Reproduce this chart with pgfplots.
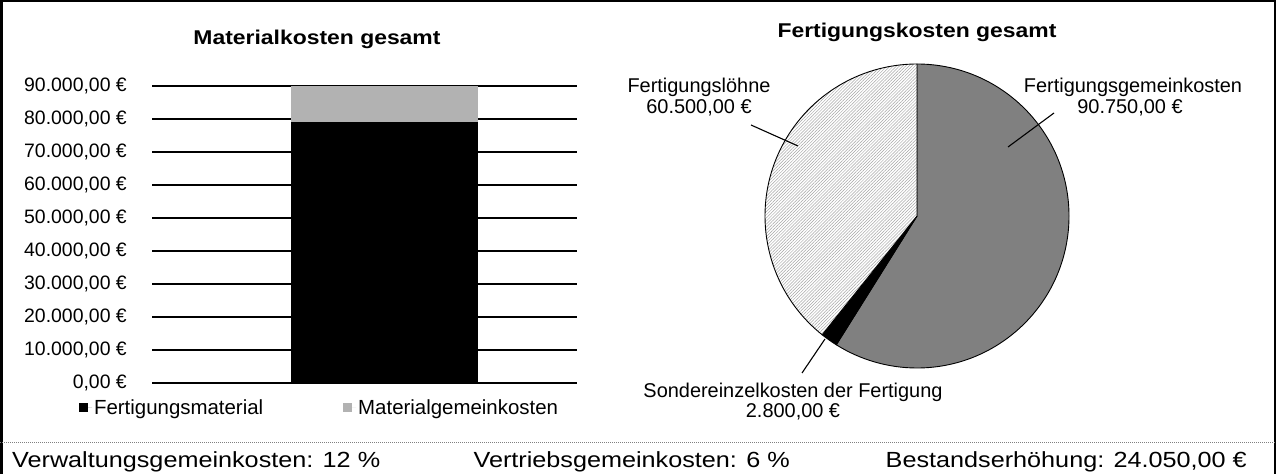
\documentclass[border=0pt]{standalone}
\usepackage{fontspec}
\setmainfont{Liberation Sans}
\newfontfamily\widefont[FakeStretch=1.15]{Liberation Sans}
\usepackage{pgfplots}
\pgfplotsset{compat=1.18}
\usepackage{pgfplotstable}
\usetikzlibrary{patterns.meta}

\pgfplotstableread{
name value
Fertigungsmaterial 79000
Materialgemeinkosten 11000
}\mattable

\pgfplotstableread{
name value
Fertigungsgemeinkosten 90750
Sondereinzelkosten 2800
Fertigungsloehne 60500
}\pietable

\pgfplotstablegetelem{0}{value}\of\mattable\edef\mA{\pgfplotsretval}%
\pgfplotstablegetelem{1}{value}\of\mattable\edef\mB{\pgfplotsretval}%
\pgfplotstablegetelem{0}{value}\of\pietable\edef\vA{\pgfplotsretval}%
\pgfplotstablegetelem{1}{value}\of\pietable\edef\vB{\pgfplotsretval}%
\pgfplotstablegetelem{2}{value}\of\pietable\edef\vC{\pgfplotsretval}%
\edef\tot{\fpeval{\vA+\vB+\vC}}%
\edef\aA{90}%
\edef\aB{\fpeval{90-360*\vA/\tot}}%
\edef\aC{\fpeval{90-360*(\vA+\vB)/\tot}}%
\edef\aD{-270}%

\begin{document}%
\begin{tikzpicture}

% outer frame
\draw[line width=2.5bp] (1.25bp,0bp) -- (1.25bp,472.75bp) -- (1274.75bp,472.75bp) -- (1274.75bp,0bp);
\draw[gray, line width=0.8bp, dash pattern=on 1bp off 1bp] (0bp,32bp) -- (1276bp,32bp);

% titles
\node[font=\widefont\fontsize{20}{24}\bfseries\selectfont] at (317bp,435bp) {Materialkosten gesamt};
\node[font=\widefont\fontsize{20}{24}\bfseries\selectfont] at (917bp,442bp) {Fertigungskosten gesamt};

% bar chart
\begin{axis}[
  at={(152bp,91bp)}, anchor=south west,
  width=425bp, height=297bp, scale only axis,
  xmin=-1, xmax=0.828, ymin=0, ymax=90000,
  ytick={0,10000,20000,30000,40000,50000,60000,70000,80000,90000},
  xtick=\empty,
  axis line style={draw=none},
  ymajorgrids, major grid style={black, line width=1.1bp},
  major tick length=0pt,
  scaled y ticks=false,
  yticklabel style={font=\fontsize{19.5}{22}\selectfont, anchor=east, inner sep=0pt, xshift=-25bp,
    /pgf/number format/fixed, /pgf/number format/fixed zerofill,
    /pgf/number format/precision=2, /pgf/number format/use comma,
    /pgf/number format/1000 sep={.}, /pgf/number format/assume math mode=true},
  yticklabel={\pgfmathprintnumber{\tick}~€},
  ybar stacked, bar width=187bp,
  clip=false,
  legend columns=2,
  legend style={at={(-0.172,-0.084)}, anchor=west, draw=none, fill=none,
    font=\fontsize{20.5}{24}\selectfont, inner sep=0pt,
    /tikz/every even column/.append style={column sep=78bp}},
  legend image code/.code={\path (0bp,0bp) -- (13bp,0bp);\fill[#1] (0bp,-4.5bp) rectangle (9bp,4.5bp);},
]
\addplot[fill=black, draw=none] coordinates {(0,\mA)};
\addlegendentry{Fertigungsmaterial}
\addplot[fill=black!30, draw=none] coordinates {(0,\mB)};
\addlegendentry{Materialgemeinkosten}
\end{axis}

% pie chart
\begin{axis}[
  at={(765bp,106bp)}, anchor=south west,
  width=304bp, height=304bp, scale only axis,
  hide axis, xmin=-1, xmax=1, ymin=-1, ymax=1, clip=false,
]
\filldraw[fill=black!50, draw=black, line width=0.9bp]
  (axis cs:0,0) -- (axis cs:{cos(\aA)},{sin(\aA)}) arc[start angle=\aA, end angle=\aB, radius=152bp] -- cycle;
\filldraw[fill=black, draw=black, line width=0.9bp]
  (axis cs:0,0) -- (axis cs:{cos(\aB)},{sin(\aB)}) arc[start angle=\aB, end angle=\aC, radius=152bp] -- cycle;
\fill[white]
  (axis cs:0,0) -- (axis cs:{cos(\aC)},{sin(\aC)}) arc[start angle=\aC, end angle=\aD, radius=152bp] -- cycle;
\fill[pattern={Lines[angle=45,distance=2.2bp,line width=0.5bp]}, pattern color=black!35]
  (axis cs:0,0) -- (axis cs:{cos(\aC)},{sin(\aC)}) arc[start angle=\aC, end angle=\aD, radius=152bp] -- cycle;
\draw[black, line width=0.9bp]
  (axis cs:0,0) -- (axis cs:{cos(\aC)},{sin(\aC)}) arc[start angle=\aC, end angle=\aD, radius=152bp] -- cycle;
\end{axis}

% pie labels and leader lines
\begin{scope}[font=\fontsize{20}{24}\selectfont]
\node[anchor=base] at (699bp,381bp) {Fertigungslöhne};
\node[anchor=base] at (699bp,360bp) {60.500,00 €};
\node[anchor=base] at (1133bp,381bp) {Fertigungsgemeinkosten};
\node[anchor=base] at (1130bp,360bp) {90.750,00 €};
\node[anchor=base] at (793bp,76.5bp) {Sondereinzelkosten der Fertigung};
\node[anchor=base] at (793bp,56.5bp) {2.800,00 €};
\end{scope}
\draw[line width=1.1bp] (751bp,349bp) -- (798bp,328bp);
\draw[line width=1.1bp] (1054bp,361bp) -- (1008bp,327bp);
\draw[line width=1.1bp] (825bp,135bp) -- (802bp,101bp);

% bottom line
\begin{scope}[font=\widefont\fontsize{22}{26}\selectfont]
\node[anchor=base west, inner sep=0pt] at (12bp,7bp) {Verwaltungsgemeinkosten: 12 \%};
\node[anchor=base east, inner sep=0pt] at (790bp,7bp) {Vertriebsgemeinkosten: 6 \%};
\node[anchor=base east, inner sep=0pt] at (1247bp,7bp) {Bestandserhöhung: 24.050,00 €};
\end{scope}

\pgfresetboundingbox
\path[use as bounding box] (0bp,0bp) rectangle (1276bp,474bp);
\end{tikzpicture}%
\end{document}
